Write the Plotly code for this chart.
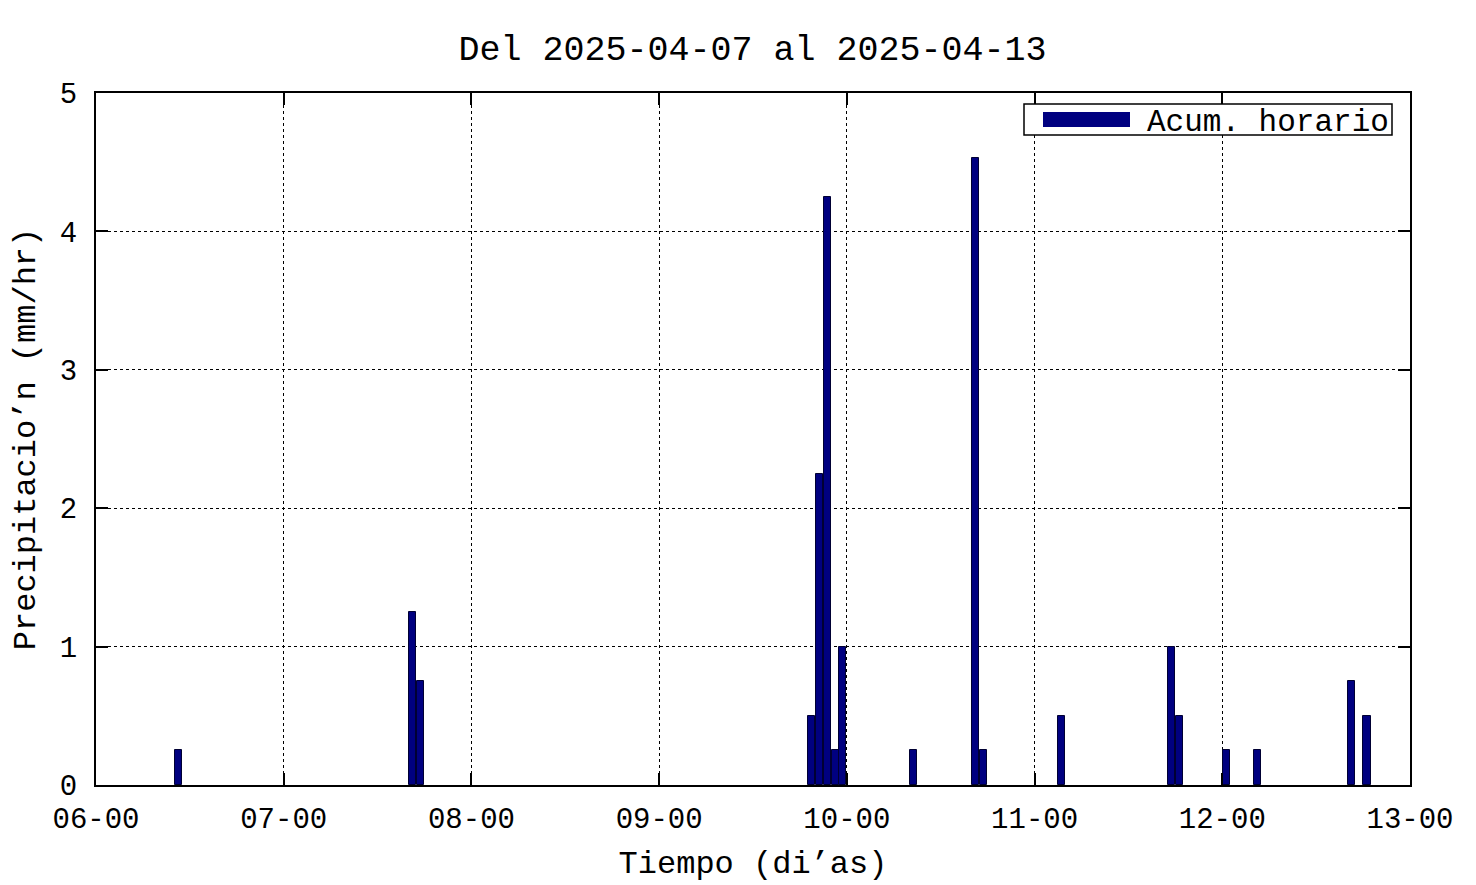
import plotly.graph_objects as go
import pandas as pd

# Data: hour offsets from 2025-04-06 00:00 (start of each hourly bin) and accumulated rain (mm/hr)
start = "2025-04-06 00:00"
hours = [10, 40, 41, 91, 92, 93, 94, 95, 104, 112, 113, 123, 137, 138, 144, 148, 160, 162]
rain = [0.25, 1.25, 0.75, 0.5, 2.25, 4.25, 0.25, 1.0, 0.25, 4.53, 0.25, 0.5, 1.0, 0.5, 0.25, 0.25, 0.75, 0.5]
x_ticks = ["2025-04-06", "2025-04-07", "2025-04-08", "2025-04-09", "2025-04-10",
           "2025-04-11", "2025-04-12", "2025-04-13"]
x_tick_labels = ["06-00", "07-00", "08-00", "09-00", "10-00", "11-00", "12-00", "13-00"]
y_ticks = [0, 1, 2, 3, 4, 5]

base = pd.Timestamp(start)
times = [base + pd.Timedelta(hours=h + 0.5) for h in hours]

FONT = "Liberation Mono"
OFF = 8  # page body margin

fig = go.Figure()
fig.add_trace(go.Bar(
    x=times, y=rain, name="Acum. horario",
    width=[0.9 * 3600 * 1000] * len(times),
    marker=dict(color="#000080", line=dict(color="#000033", width=1)),
    showlegend=False,
))

axis_common = dict(
    showline=True, linecolor="black", linewidth=2, mirror="allticks",
    ticks="inside", ticklen=12, tickwidth=2, tickcolor="black",
    showgrid=True, gridcolor="black", gridwidth=1, griddash="dot",
    zeroline=False, tickfont=dict(family=FONT, size=29, color="black"),
    automargin=False,
)

fig.update_xaxes(
    type="date", range=[x_ticks[0], x_ticks[-1]],
    tickmode="array", tickvals=x_ticks, ticktext=x_tick_labels,
    title=dict(text="Tiempo (di’as)", font=dict(family=FONT, size=32, color="black"), standoff=15),
    ticklabelstandoff=6,
    **axis_common,
)
fig.update_yaxes(
    range=[0, 5], tickmode="array", tickvals=y_ticks,
    title=dict(text="Precipitacio’n (mm/hr)", font=dict(family=FONT, size=32, color="black"), standoff=20),
    ticklabelstandoff=11,
    **axis_common,
)

# Legend box (gnuplot style)
fig.add_shape(type="rect", xref="paper", yref="paper",
              x0=(1024 - 96) / 1314, x1=(1392 - 96) / 1314,
              y0=(785 - 135) / 692, y1=(785 - 104) / 692,
              line=dict(color="black", width=1.5), fillcolor="white", layer="above")
fig.add_shape(type="rect", xref="paper", yref="paper",
              x0=(1043 - 96) / 1314, x1=(1130 - 96) / 1314,
              y0=(785 - 127) / 692, y1=(785 - 112) / 692,
              line=dict(color="#000080", width=0), fillcolor="#000080", layer="above")
fig.add_annotation(xref="paper", yref="paper", x=(1391 - 96) / 1314, y=(785 - 122) / 692,
                   text="Acum. horario", showarrow=False, xanchor="right", yanchor="middle",
                   font=dict(family=FONT, size=31, color="black"))

fig.update_layout(
    width=1476, height=885,
    margin=dict(l=96 - OFF, r=1476 - 1410 + OFF, t=93 - OFF, b=885 - 785 + OFF),
    paper_bgcolor="white", plot_bgcolor="white",
    title=dict(text="Del 2025-04-07 al 2025-04-13", x=((462 + 1043) / 2 - OFF) / 1476, xanchor="center",
               y=1 - (48 - OFF) / 885, yanchor="middle", automargin=False,
               font=dict(family=FONT, size=35, color="black")),
    bargap=0,
)

fig.write_html("out.html")
